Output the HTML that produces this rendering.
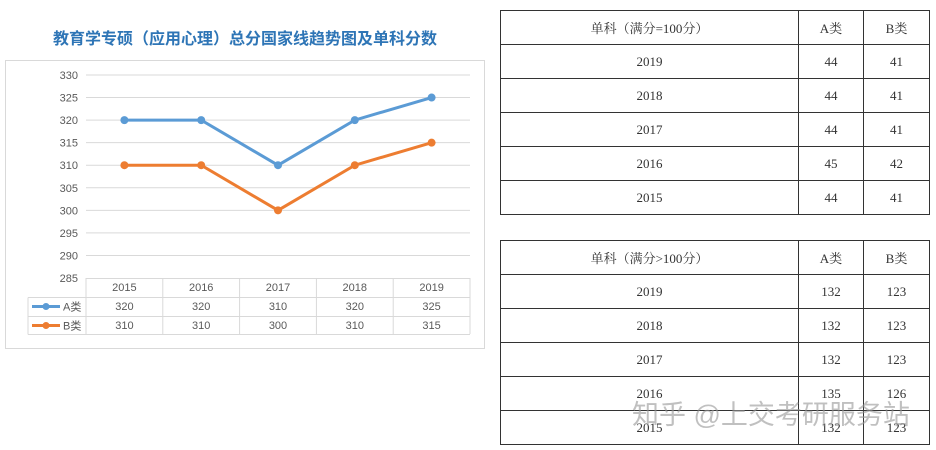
<!DOCTYPE html>
<html><head><meta charset="utf-8"><style>
body{margin:0;width:936px;height:450px;background:#fff;position:relative;overflow:hidden;font-family:"Liberation Sans","Noto Sans CJK SC",sans-serif;}
.t{position:absolute;border-collapse:collapse;left:500px;font-family:"Liberation Serif","Noto Serif CJK SC",serif;font-size:13px;color:#333;}
.t td{border:1px solid #333;height:33px;padding:0;text-align:center;}
</style></head><body>
<div style="position:absolute;left:0;width:490px;top:25px;text-align:center;color:#2e75b6;font-weight:bold;font-size:16px;">教育学专硕（应用心理）总分国家线趋势图及单科分数</div>
<svg id="chart" width="490" height="360" style="position:absolute;left:0;top:0" font-family="Liberation Sans, Noto Sans CJK SC, sans-serif"></svg>
<table class="t" style="top:10px">
<tr><td style="width:297px">单科（满分=100分）</td><td style="width:64px">A类</td><td style="width:65px">B类</td></tr>
<tr><td>2019</td><td>44</td><td>41</td></tr><tr><td>2018</td><td>44</td><td>41</td></tr><tr><td>2017</td><td>44</td><td>41</td></tr><tr><td>2016</td><td>45</td><td>42</td></tr><tr><td>2015</td><td>44</td><td>41</td></tr>
</table>
<table class="t" style="top:240px">
<tr><td style="width:297px">单科（满分&gt;100分）</td><td style="width:64px">A类</td><td style="width:65px">B类</td></tr>
<tr><td>2019</td><td>132</td><td>123</td></tr><tr><td>2018</td><td>132</td><td>123</td></tr><tr><td>2017</td><td>132</td><td>123</td></tr><tr><td>2016</td><td>135</td><td>126</td></tr><tr><td>2015</td><td>132</td><td>123</td></tr>
</table>
<div style="position:absolute;left:632px;top:393px;font-size:27px;color:rgba(150,150,150,0.6);white-space:nowrap;">知乎 @上交考研服务站</div>
<script>
const categories=["2015","2016","2017","2018","2019"];
const seriesA=[320,320,310,320,325];
const seriesB=[310,310,300,310,315];
const yTicks=[285,290,295,300,305,310,315,320,325,330];
const svg=document.getElementById('chart');
const NS='http://www.w3.org/2000/svg';
const x0=86,x1=470,yTop=75,yBot=278,vmin=285,vmax=330;
const bw=(x1-x0)/categories.length;
const X=i=>x0+bw*(i+0.5);
const Y=v=>yBot-(v-vmin)/(vmax-vmin)*(yBot-yTop);
function mk(t,a){const e=document.createElementNS(NS,t);for(const k in a)e.setAttribute(k,a[k]);svg.appendChild(e);return e;}
let f=mk('rect',{x:5.5,y:60.5,width:479,height:288,fill:'#fff',stroke:'#d9d9d9'});


yTicks.forEach(v=>{
 if(v>vmin){const g=mk('line',{x1:x0,x2:x1,y1:Y(v),y2:Y(v),stroke:'#d9d9d9'});
 
 }
 const t=mk('text',{x:78,y:Y(v)+4,'text-anchor':'end','font-size':11,fill:'#595959'});t.textContent=v;
 
 
});
const rows=[278,297,316,334];
[[x0,rows[0],x1,rows[0]],[28,rows[1],x1,rows[1]],[28,rows[2],x1,rows[2]],[28,rows[3],x1,rows[3]],[28,rows[1],28,rows[3]]].forEach(l=>{
 const e=mk('line',{x1:l[0],y1:l[1]+.5,x2:l[2],y2:l[3]+.5,stroke:'#d9d9d9'});
 
 
});
for(let i=0;i<=categories.length;i++){const e=mk('line',{x1:x0+bw*i,x2:x0+bw*i,y1:rows[0],y2:rows[3],stroke:'#d9d9d9'});
 
 }
categories.forEach((c,i)=>{
 [[c,rows[0]],[seriesA[i],rows[1]],[seriesB[i],rows[2]]].forEach(([s,r])=>{
  const t=mk('text',{x:X(i),y:r+13,'text-anchor':'middle','font-size':11,fill:'#595959'});t.textContent=s;
  
  
 });
});
function series(vals,col,name,row,label){
 const p=mk('polyline',{points:vals.map((v,i)=>X(i)+','+Y(v)).join(' '),fill:'none',stroke:col,'stroke-width':3});
 
 
 vals.forEach((v,i)=>{const c=mk('circle',{cx:X(i),cy:Y(v),r:4,fill:col});
  
  });
 const ly=row+9.5;
 const l=mk('line',{x1:32,x2:60,y1:ly,y2:ly,stroke:col,'stroke-width':3});
 
 
 mk('circle',{cx:46,cy:ly,r:3.5,fill:col});
 const t=mk('text',{x:63,y:ly+4,'font-size':11,fill:'#595959'});t.textContent=label;
 
 
}
series(seriesA,'#5b9bd5','series-a',rows[1],'A类');
series(seriesB,'#ed7d31','series-b',rows[2],'B类');
</script>
</body></html>
